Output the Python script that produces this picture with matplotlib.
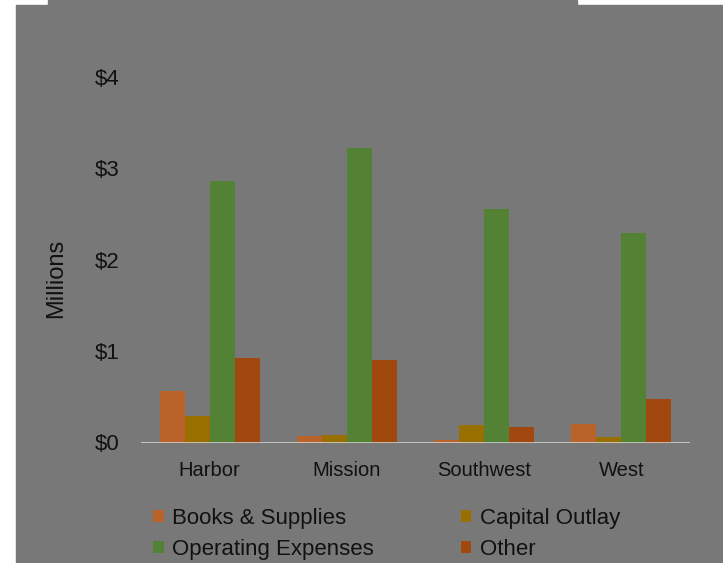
import numpy as np
import matplotlib
matplotlib.use("Agg")
from matplotlib import pyplot as plt
from matplotlib.patches import Rectangle

# 数据（单位：百万美元）
regions = ['Harbor', 'Mission', 'Southwest', 'West']
books = [0.56, 0.07, 0.03, 0.20]
capital = [0.29, 0.08, 0.19, 0.06]
operating = [2.86, 3.22, 2.55, 2.29]
other = [0.92, 0.90, 0.17, 0.48]
yticks = [0, 1, 2, 3, 4]
ytick_labels = ['$0', '$1', '$2', '$3', '$4']

series = [('Books & Supplies', books, '#B9622A'),
          ('Capital Outlay', capital, '#997000'),
          ('Operating Expenses', operating, '#548235'),
          ('Other', other, '#A0480E')]

plt.rcParams['font.family'] = ['Liberation Sans', 'DejaVu Sans']
W, H = 723, 563
fig = plt.figure(figsize=(W / 100, H / 100), dpi=100)
fig.patch.set_facecolor('white')
bg = '#787878'
# 灰色背景（左边和顶部留一点白边）
fig.patches.append(Rectangle((16 / W, 0), 1 - 16 / W, (H - 4.5) / H,
                             transform=fig.transFigure, color=bg, zorder=-10))
fig.patches.append(Rectangle((48 / W, 0.9), (577 - 48) / W, 0.1,
                             transform=fig.transFigure, color=bg, zorder=-10))

left, right, bottom, top = 141, 690, 442.5, 77
ax = fig.add_axes([left / W, 1 - bottom / H, (right - left) / W, (bottom - top) / H])
ax.set_facecolor('none')

x = np.arange(len(regions))
w = 0.182
handles = []
for i, (name, vals, col) in enumerate(series):
    b = ax.bar(x + (i - 1.5) * w, vals, w, color=col, label=name, zorder=2)
    handles.append(b)

ax.axhline(0, color='#dadada', lw=1.8, zorder=3)
ax.set_xlim(-0.5, 3.5)
ax.set_ylim(0, 4)
ax.set_yticks(yticks)
ax.set_yticklabels(ytick_labels)
ax.set_xticks(x)
ax.set_xticklabels(regions)
for s in ax.spines.values():
    s.set_visible(False)
ax.tick_params(axis='y', length=0, pad=15.5, labelsize=16, labelcolor='#111111')
ax.tick_params(axis='x', length=0, pad=13, labelsize=14.5, labelcolor='#111111')
# 纵轴标题
fig.text(56 / W, 1 - 278 / H, 'Millions', rotation=90, ha='center', va='center',
         fontsize=17, color='#111111')

order = [handles[0], handles[2], handles[1], handles[3]]
fig.legend(order, [h.get_label() for h in order], ncol=2, frameon=False,
           loc='upper left', bbox_to_anchor=(133 / W, 1 - 488 / H),
           fontsize=16, handlelength=0.48, handleheight=0.48, handletextpad=0.38,
           columnspacing=3.9, labelspacing=0.44, labelcolor='#111111')

fig.savefig('out.png', dpi=100, facecolor=fig.get_facecolor())
